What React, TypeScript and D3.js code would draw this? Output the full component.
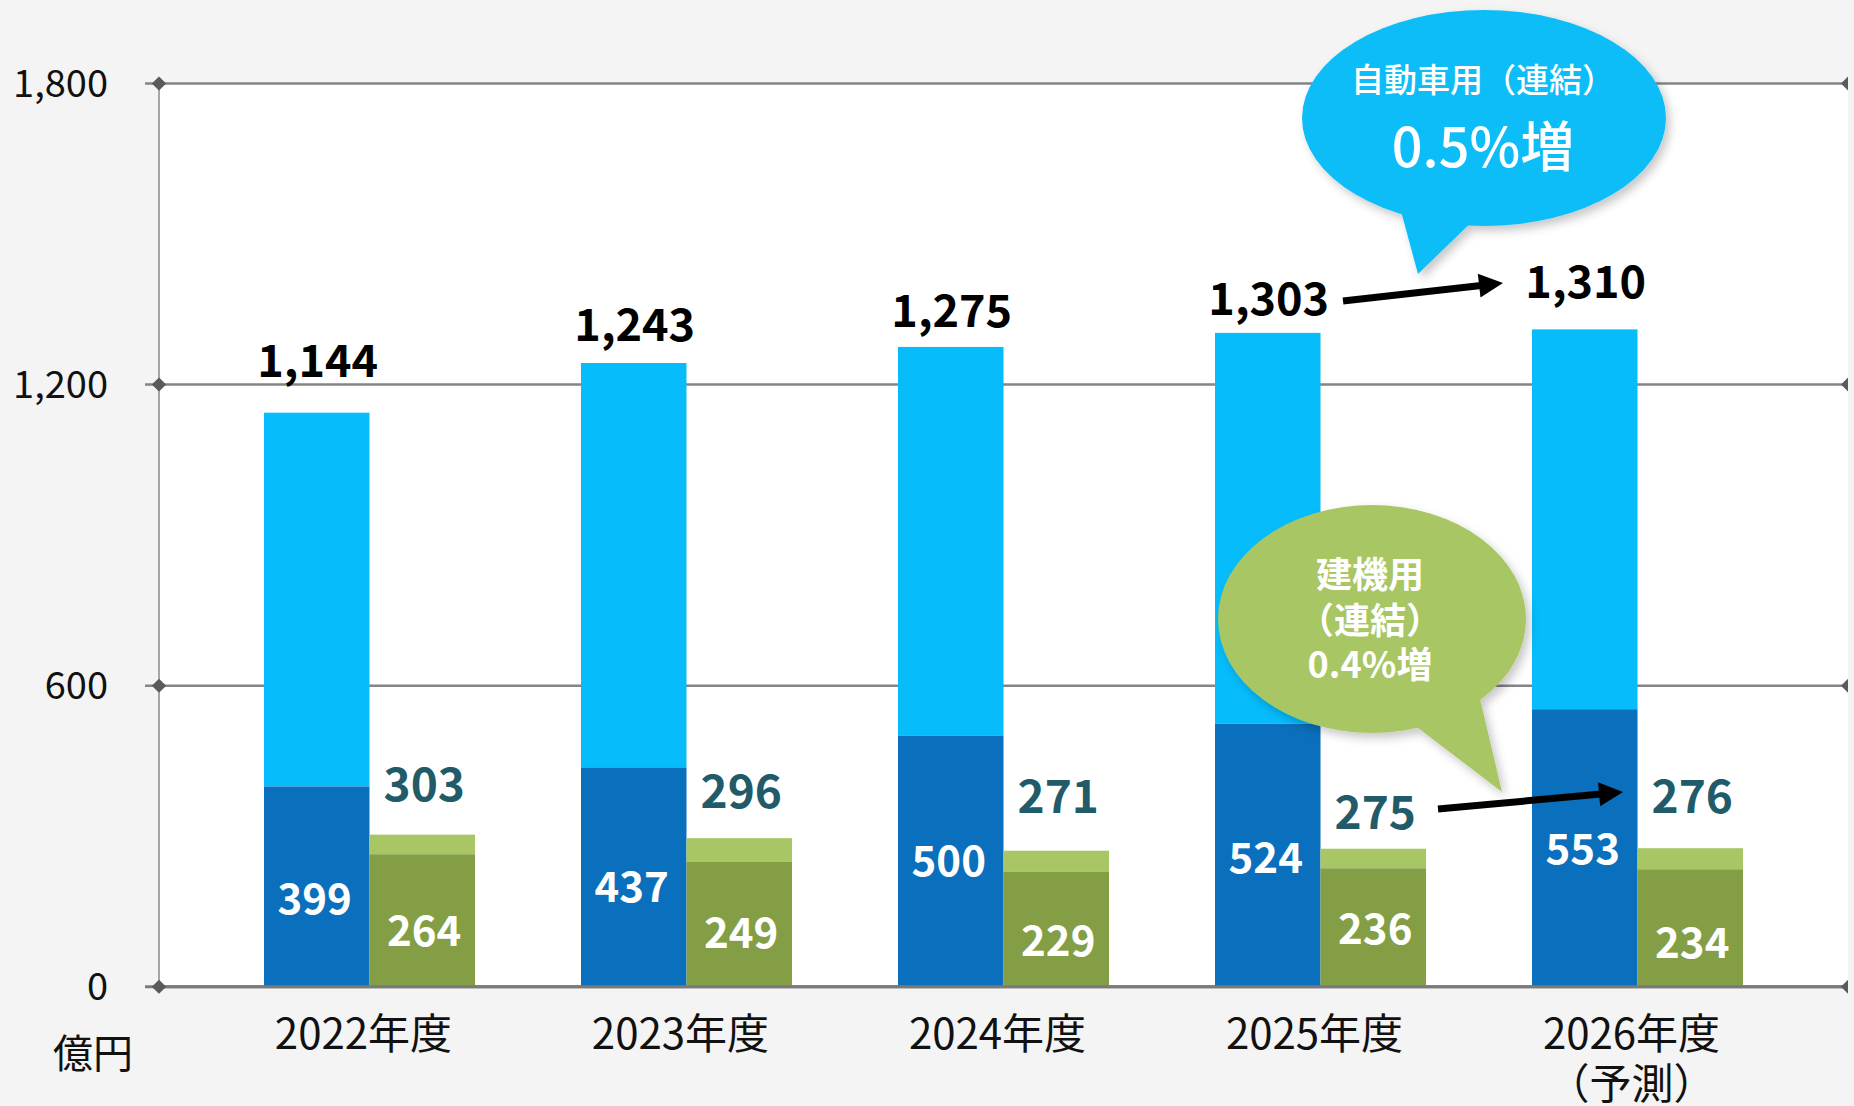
import React from "react";
import * as d3 from "d3";

// ---- data ----
const categories = ["2022年度", "2023年度", "2024年度", "2025年度", "2026年度"];
const categorySubLabels = ["", "", "", "", "（予測）"];
const autoTotal = [1144, 1243, 1275, 1303, 1310];
const autoBase = [399, 437, 500, 524, 553];
const constTotal = [303, 296, 271, 275, 276];
const constBase = [264, 249, 229, 236, 234];
const yTicks = [0, 600, 1200, 1800];
const unitLabel = "億円";
const autoBubble = ["自動車用（連結）", "0.5%増"];
const constBubble = ["建機用", "（連結）", "0.4%増"];

// ---- layout (pixel offsets for labels, not data) ----
const W = 1854;
const H = 1106;
const plotL = 159;
const plotR = 1848;
const plotT = 83.5;
const plotB = 986.7;
const barW = 105.5;
const totalLabelOff = [-36, -21.5, -20, -18, -31];
const constTotalOff = [-34, -30, -38, -20, -35.5];
const autoBaseOff = [12, 10, 0, 3, 1.5];
const constBaseOff = [10.5, 8.7, 11.7, 2, 15];

const FONT = "'Noto Sans CJK JP', 'Noto Sans', sans-serif";
const C_LIGHTBLUE = "#06BCFB";
const C_DARKBLUE = "#0A6FBC";
const C_DARKGREEN = "#839E45";
const C_LIGHTGREEN = "#A8C664";
const C_TEAL = "#215B69";
const C_BUBBLE_BLUE = "#0BBDF8";
const C_BUBBLE_GREEN = "#A8C664";

function arrowHead(x1: number, y1: number, x2: number, y2: number, len: number, half: number) {
  const dx = x2 - x1;
  const dy = y2 - y1;
  const L = Math.hypot(dx, dy);
  const ux = dx / L;
  const uy = dy / L;
  const bx = x2 - ux * len;
  const by = y2 - uy * len;
  const nx = -uy;
  const ny = ux;
  return {
    lineEnd: [bx + ux * 2, by + uy * 2],
    pts: `${x2},${y2} ${bx + nx * half},${by + ny * half} ${bx - nx * half},${by - ny * half}`,
  };
}

export default function App() {
  const y = d3.scaleLinear().domain([0, 1800]).range([plotB, plotT]);
  const x = d3.scalePoint<string>().domain(categories).range([plotL, plotR]).padding(0.664);
  const fmt = d3.format(",");

  const a1 = arrowHead(1343, 301, 1503, 283, 24, 12);
  const a2 = arrowHead(1438, 809, 1623, 792, 24, 12);

  return (
    <svg
      width={W}
      height={H}
      style={{ position: "absolute", left: 0, top: 0, display: "block" }}
      fontFamily={FONT}
    >
      <defs>
        <filter id="shadow" x="-20%" y="-20%" width="140%" height="150%">
          <feDropShadow dx="4" dy="5" stdDeviation="5" floodColor="#000" floodOpacity="0.22" />
        </filter>
      </defs>
      <rect x={0} y={0} width={W} height={H} fill="#F4F4F4" />
      <rect x={plotL} y={plotT} width={plotR - plotL} height={plotB - plotT} fill="#FFFFFF" />

      {/* gridlines */}
      {yTicks.map((t) => (
        <line
          key={"g" + t}
          x1={145}
          x2={plotR}
          y1={y(t)}
          y2={y(t)}
          stroke={t === 0 ? "#7A7A7A" : "#858585"}
          strokeWidth={t === 0 ? 3 : 2.5}
        />
      ))}
      <line x1={plotL} x2={plotL} y1={plotT} y2={plotB} stroke="#A6A6A6" strokeWidth={2} />

      {/* bars */}
      {categories.map((c, i) => {
        const cx = x(c) as number;
        return (
          <g key={"b" + c}>
            <rect x={cx - barW} y={y(autoTotal[i])} width={barW} height={y(autoBase[i]) - y(autoTotal[i])} fill={C_LIGHTBLUE} />
            <rect x={cx - barW} y={y(autoBase[i])} width={barW} height={y(0) - y(autoBase[i])} fill={C_DARKBLUE} />
            <rect x={cx} y={y(constTotal[i])} width={barW} height={y(constBase[i]) - y(constTotal[i])} fill={C_LIGHTGREEN} />
            <rect x={cx} y={y(constBase[i])} width={barW} height={y(0) - y(constBase[i])} fill={C_DARKGREEN} />
          </g>
        );
      })}

      {/* axis line at bottom redrawn over bars */}
      <line x1={plotL} x2={plotR} y1={y(0)} y2={y(0)} stroke="#7A7A7A" strokeWidth={3} />

      {/* tick markers */}
      {yTicks.map((t) => (
        <g key={"m" + t}>
          <polygon
            points={`${plotL - 7.2},${y(t)} ${plotL},${y(t) - 7} ${plotL + 7.2},${y(t)} ${plotL},${y(t) + 7}`}
            fill="#5A5A5A"
          />
          <polygon points={`${plotR - 7},${y(t)} ${plotR},${y(t) - 7} ${plotR},${y(t) + 7}`} fill="#5A5A5A" />
          <text x={108} y={y(t) + 13.2} textAnchor="end" fontSize={38} fill="#111">
            {fmt(t)}
          </text>
        </g>
      ))}
      <text x={93} y={1068} textAnchor="middle" fontSize={40} fill="#111">
        {unitLabel}
      </text>

      {/* x labels */}
      {categories.map((c, i) => (
        <g key={"x" + c}>
          <text x={(x(c) as number) - 6} y={1049} textAnchor="middle" fontSize={42} fill="#111">
            {c}
          </text>
          {categorySubLabels[i] && (
            <text x={(x(c) as number) - 6} y={1099} textAnchor="middle" fontSize={42} fill="#111">
              {categorySubLabels[i]}
            </text>
          )}
        </g>
      ))}

      {/* value labels */}
      {categories.map((c, i) => {
        const cx = x(c) as number;
        const autoMid = (y(autoBase[i]) + y(0)) / 2 + autoBaseOff[i];
        const constMid = (y(constBase[i]) + y(0)) / 2 + constBaseOff[i];
        return (
          <g key={"l" + c} fontWeight={700}>
            <text x={cx - barW / 2 + 1} y={y(autoTotal[i]) + totalLabelOff[i]} textAnchor="middle" fontSize={45} fill="#000">
              {fmt(autoTotal[i])}
            </text>
            <text x={cx + barW / 2 + 2} y={y(constTotal[i]) + constTotalOff[i]} textAnchor="middle" fontSize={46} fill={C_TEAL}>
              {fmt(constTotal[i])}
            </text>
            <text x={cx - barW / 2 - 2} y={autoMid + 15} textAnchor="middle" fontSize={42} fill="#fff">
              {fmt(autoBase[i])}
            </text>
            <text x={cx + barW / 2 + 2} y={constMid + 15} textAnchor="middle" fontSize={42} fill="#fff">
              {fmt(constBase[i])}
            </text>
          </g>
        );
      })}

      {/* arrows */}
      <line x1={1343} y1={301} x2={a1.lineEnd[0]} y2={a1.lineEnd[1]} stroke="#000" strokeWidth={7} />
      <polygon points={a1.pts} fill="#000" />
      <line x1={1438} y1={809} x2={a2.lineEnd[0]} y2={a2.lineEnd[1]} stroke="#000" strokeWidth={7} />
      <polygon points={a2.pts} fill="#000" />

      {/* blue bubble */}
      <g filter="url(#shadow)">
        <ellipse cx={1484} cy={118} rx={182} ry={108} fill={C_BUBBLE_BLUE} />
        <polygon points="1398,200 1482,212 1418,274" fill={C_BUBBLE_BLUE} />
      </g>
      <text x={1483} y={92} textAnchor="middle" fontSize={33} fontWeight={500} fill="#fff">
        {autoBubble[0]}
      </text>
      <text x={1483} y={167} textAnchor="middle" fontSize={54} fontWeight={500} fill="#fff">
        {autoBubble[1]}
      </text>

      {/* green bubble */}
      <g filter="url(#shadow)">
        <ellipse cx={1372} cy={619} rx={154} ry={114} fill={C_BUBBLE_GREEN} />
        <polygon points="1405,718 1478,690 1502,792" fill={C_BUBBLE_GREEN} />
      </g>
      {constBubble.map((s, i) => (
        <text key={"cb" + i} x={1370} y={[588, 634, 678][i]} textAnchor="middle" fontSize={36} fontWeight={700} fill="#fff">
          {s}
        </text>
      ))}
    </svg>
  );
}
